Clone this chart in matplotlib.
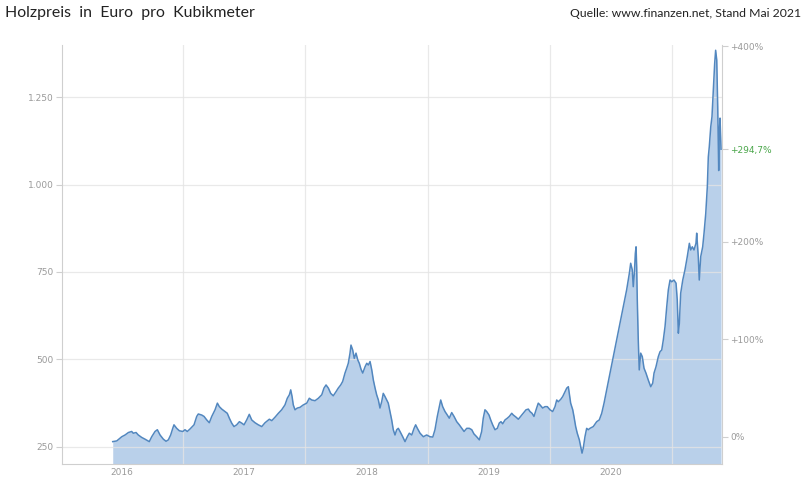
import matplotlib

matplotlib.use("Agg")
import matplotlib.pyplot as plt
from matplotlib.ticker import FixedLocator, FuncFormatter

# Holzpreis (EUR / m3); x as decimal years
years = [
    2016.425, 2016.458, 2016.499, 2016.526, 2016.553, 2016.580, 2016.593, 2016.616,
    2016.634, 2016.662, 2016.689, 2016.724, 2016.744, 2016.771, 2016.790, 2016.812,
    2016.839, 2016.861, 2016.880, 2016.899, 2016.916, 2016.926, 2016.948, 2016.970,
    2016.998, 2017.016, 2017.035, 2017.057, 2017.071, 2017.090, 2017.112, 2017.125,
    2017.153, 2017.172, 2017.194, 2017.215, 2017.235, 2017.262, 2017.281, 2017.297,
    2017.317, 2017.344, 2017.362, 2017.379, 2017.398, 2017.417, 2017.439, 2017.461,
    2017.480, 2017.499, 2017.521, 2017.542, 2017.562, 2017.589, 2017.616, 2017.644,
    2017.671, 2017.706, 2017.726, 2017.753, 2017.780, 2017.807, 2017.834, 2017.853,
    2017.870, 2017.881, 2017.892, 2017.902, 2017.916, 2017.935, 2017.957, 2017.984,
    2018.012, 2018.033, 2018.053, 2018.080, 2018.107, 2018.135, 2018.153, 2018.170,
    2018.189, 2018.208, 2018.229, 2018.252, 2018.270, 2018.290, 2018.306, 2018.325,
    2018.339, 2018.352, 2018.366, 2018.374, 2018.388, 2018.401, 2018.415, 2018.429,
    2018.442, 2018.456, 2018.470, 2018.489, 2018.503, 2018.516, 2018.530, 2018.544,
    2018.557, 2018.571, 2018.584, 2018.598, 2018.611, 2018.625, 2018.638, 2018.652,
    2018.666, 2018.679, 2018.693, 2018.707, 2018.720, 2018.734, 2018.748, 2018.761,
    2018.775, 2018.797, 2018.816, 2018.835, 2018.851, 2018.871, 2018.890, 2018.903,
    2018.917, 2018.939, 2018.966, 2018.993, 2019.020, 2019.043, 2019.061, 2019.080,
    2019.097, 2019.108, 2019.124, 2019.143, 2019.162, 2019.178, 2019.198, 2019.217,
    2019.239, 2019.260, 2019.280, 2019.299, 2019.321, 2019.342, 2019.362, 2019.380,
    2019.402, 2019.424, 2019.443, 2019.456, 2019.470, 2019.484, 2019.503, 2019.517,
    2019.533, 2019.552, 2019.571, 2019.587, 2019.601, 2019.615, 2019.634, 2019.653,
    2019.669, 2019.689, 2019.702, 2019.724, 2019.743, 2019.762, 2019.784, 2019.806,
    2019.825, 2019.838, 2019.855, 2019.871, 2019.888, 2019.906, 2019.920, 2019.942,
    2019.961, 2019.980, 2020.002, 2020.024, 2020.043, 2020.057, 2020.070, 2020.090,
    2020.106, 2020.125, 2020.139, 2020.152, 2020.160, 2020.171, 2020.188, 2020.198,
    2020.212, 2020.225, 2020.242, 2020.253, 2020.264, 2020.274, 2020.288, 2020.302,
    2020.315, 2020.329, 2020.356, 2020.384, 2020.405, 2020.425, 2020.444, 2020.466,
    2020.493, 2020.520, 2020.548, 2020.575, 2020.602, 2020.629, 2020.651, 2020.662,
    2020.675, 2020.683, 2020.692, 2020.700, 2020.706, 2020.711, 2020.716, 2020.724,
    2020.732, 2020.744, 2020.757, 2020.771, 2020.787, 2020.806, 2020.826, 2020.842,
    2020.853, 2020.869, 2020.888, 2020.902, 2020.916, 2020.929, 2020.943, 2020.957,
    2020.970, 2020.984, 2020.998, 2021.016, 2021.033, 2021.043, 2021.052, 2021.060,
    2021.071, 2021.088, 2021.106, 2021.125, 2021.142, 2021.153, 2021.166, 2021.180,
    2021.196, 2021.202, 2021.215, 2021.223, 2021.235, 2021.251, 2021.262, 2021.276,
    2021.289, 2021.297, 2021.305, 2021.317, 2021.327, 2021.338, 2021.349, 2021.357,
    2021.366, 2021.374, 2021.382, 2021.387, 2021.393, 2021.401,
]
prices = [
    265, 267, 279, 284, 291, 294, 289, 291,
    284, 277, 272, 265, 279, 294, 299, 284,
    272, 266, 270, 284, 303, 313, 303, 296,
    294, 299, 294, 301, 306, 313, 337, 344,
    341, 337, 327, 319, 337, 356, 375, 365,
    358, 351, 346, 332, 318, 308, 313, 322,
    318, 313, 327, 343, 327, 319, 313, 308,
    319, 329, 325, 335, 346, 356, 370, 389,
    399, 413, 394, 370, 356, 361, 363, 370,
    375, 389, 384, 382, 389, 399, 418, 427,
    418, 403, 396, 408, 418, 427, 437, 461,
    475, 489, 518, 541, 527, 503, 518, 499,
    489, 472, 461, 479, 489, 484, 494, 470,
    441, 418, 399, 384, 361, 379, 403, 394,
    384, 375, 351, 327, 299, 284, 299, 303,
    294, 279, 265, 279, 289, 284, 303, 313,
    303, 289, 279, 284, 279, 278, 299, 337,
    365, 384, 365, 351, 341, 332, 348, 337,
    322, 313, 303, 294, 303, 303, 299, 287,
    279, 270, 294, 332, 356, 351, 341, 327,
    313, 299, 303, 318, 322, 316, 327, 332,
    337, 346, 341, 335, 329, 337, 346, 356,
    358, 351, 346, 337, 356, 375, 370, 361,
    365, 365, 356, 351, 365, 384, 379, 386,
    394, 408, 418, 422, 403, 375, 356, 337,
    308, 289, 270, 251, 232, 246, 279, 303,
    299, 303, 308, 322, 327, 346, 375, 413,
    461, 508, 556, 603, 651, 699, 746, 775,
    756, 708, 746, 803, 822, 765, 670, 556,
    470, 518, 508, 475, 461, 441, 422, 432,
    461, 479, 508, 522, 527, 556, 594, 651,
    699, 727, 722, 727, 718, 670, 575, 603,
    689, 727, 756, 794, 832, 813, 822, 813,
    832, 861, 794, 727, 794, 822, 861, 917,
    994, 1079, 1108, 1165, 1194, 1270, 1346, 1384,
    1356, 1222, 1040, 1150, 1190, 1101,
]
change_pct = 294.7  # Veraenderung seit Beginn, rechts markiert

year_labels = ["2016", "2017", "2018", "2019", "2020"]
price_ticks = [250, 500, 750, 1000, 1250]
pct_ticks = [0, 100, 200, 400]

base_price = prices[-1] / (1 + change_pct / 100)

grey_text = "#9a9a9a"
axis_grey = "#cfcfcf"
fill_blue = "#b9d0ea"
line_blue = "#5287bf"
green = "#4aa64a"

fig = plt.figure(figsize=(8.03, 4.91), dpi=100)
ax = fig.add_axes([62 / 803, 1 - 464 / 491, 660 / 803, 419 / 491])

ax.fill_between(years, prices, 0, color=fill_blue, linewidth=0, zorder=1)
ax.plot(years, prices, color=line_blue, linewidth=1.1, zorder=3)

ax.set_xlim(2016.01, 2021.409)
ax.set_ylim(201, 1399)

# years: labels mid-year, grid lines at year start
ax.xaxis.set_major_locator(FixedLocator([int(y) + 0.5 for y in year_labels]))
ax.set_xticklabels(year_labels)
ax.xaxis.set_minor_locator(FixedLocator([int(y) + 1 for y in year_labels]))
ax.grid(which="minor", axis="x", color="#e4e4e4", linewidth=0.9, alpha=0.8)
ax.tick_params(axis="x", which="both", length=0, pad=3, labelsize=6.5, labelcolor=grey_text)

ax.yaxis.set_major_locator(FixedLocator(price_ticks))
ax.yaxis.set_major_formatter(FuncFormatter(lambda v, _: f"{v:,.0f}".replace(",", ".")))
ax.grid(which="major", axis="y", color="#e4e4e4", linewidth=0.9, alpha=0.8)
ax.tick_params(axis="y", length=4, width=0.8, color=axis_grey, pad=2,
               labelsize=6.5, labelcolor=grey_text)
ax.set_axisbelow("line")

for side in ["left", "bottom"]:
    ax.spines[side].set_color(axis_grey)
ax.spines["top"].set_visible(False)
ax.spines["right"].set_visible(False)

sec = ax.secondary_yaxis(
    "right",
    functions=(lambda v: (v / base_price - 1) * 100, lambda p: base_price * (1 + p / 100)),
)
sec_ticks = sorted(pct_ticks + [change_pct])
sec.yaxis.set_major_locator(FixedLocator(sec_ticks))
sec.set_yticklabels(
    [f"{t:+.1f}%".replace(".", ",") if t == change_pct else ("0%" if t == 0 else f"+{t:.0f}%")
     for t in sec_ticks]
)
sec.tick_params(length=4, width=0.8, color=axis_grey, pad=2, labelsize=6.5, labelcolor=grey_text)
sec.spines["right"].set_color(axis_grey)
for tick, value in zip(sec.yaxis.get_major_ticks(), sec_ticks):
    if value == change_pct:
        tick.label2.set_color(green)
        tick.label1.set_color(green)
        tick.tick2line.set_color(green)
        tick.tick1line.set_color(green)

fig.text(0.006, 0.988, "Holzpreis  in  Euro  pro  Kubikmeter", fontsize=11.4,
         family="Lato", color="#222222", va="top", ha="left")
fig.text(0.9975, 0.983, "Quelle: www.finanzen.net, Stand Mai 2021", fontsize=8.8,
         family="Lato", color="#222222", va="top", ha="right")

fig.savefig("out.png", dpi=100)
